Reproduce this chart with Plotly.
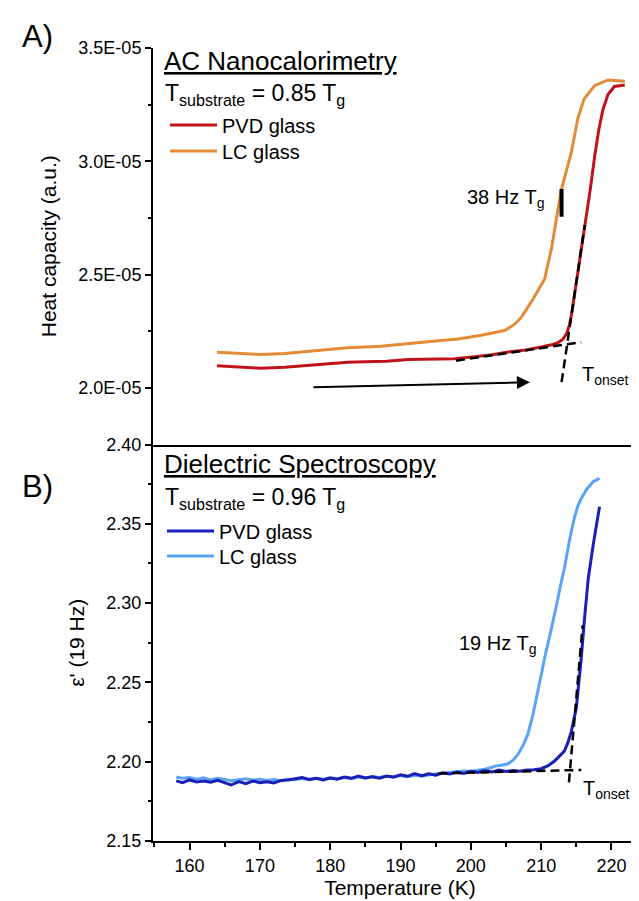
import plotly.graph_objects as go

# ---------------- data ----------------
# Panel A: AC nanocalorimetry (heat capacity, a.u.)
pvd_a_T = [163.9, 166.5, 170.1, 173.5, 176.8, 180.0, 182.5, 185.0, 188.0, 191.1, 194.5, 197.7,
           200.5, 203.0, 205.3, 207.8, 210.0, 211.5, 212.4, 213.1, 213.6, 214.0, 214.3, 215.0,
           215.7, 216.4, 217.0, 217.6, 218.2, 218.8, 219.5, 220.4, 221.9]
pvd_a_cp = [2.098e-5, 2.094e-5, 2.087e-5, 2.091e-5, 2.098e-5, 2.106e-5, 2.113e-5, 2.115e-5, 2.117e-5,
            2.125e-5, 2.125e-5, 2.128e-5, 2.137e-5, 2.146e-5, 2.158e-5, 2.167e-5, 2.180e-5, 2.190e-5,
            2.200e-5, 2.215e-5, 2.238e-5, 2.275e-5, 2.320e-5, 2.460e-5, 2.600e-5, 2.740e-5, 2.880e-5,
            3.020e-5, 3.140e-5, 3.230e-5, 3.295e-5, 3.330e-5, 3.337e-5]

lc_a_T = [163.9, 166.5, 170.1, 173.5, 176.8, 180.0, 182.5, 187.2, 191.1, 195.0, 198.2, 201.5,
          204.8, 206.2, 207.2, 208.8, 210.5, 211.5, 212.4, 212.9, 213.6, 214.3, 215.2, 216.1,
          217.6, 219.5, 221.9]
lc_a_cp = [2.1575e-5, 2.152e-5, 2.147e-5, 2.152e-5, 2.160e-5, 2.170e-5, 2.1765e-5, 2.184e-5, 2.197e-5,
           2.207e-5, 2.216e-5, 2.232e-5, 2.253e-5, 2.280e-5, 2.312e-5, 2.390e-5, 2.481e-5, 2.620e-5,
           2.790e-5, 2.878e-5, 2.960e-5, 3.040e-5, 3.187e-5, 3.275e-5, 3.334e-5, 3.359e-5, 3.353e-5]

onset_a_base_T = [197.9, 215.7]
onset_a_base_cp = [2.120e-5, 2.2016e-5]
onset_a_rise_T = [212.9, 216.2]
onset_a_rise_cp = [2.025e-5, 2.718e-5]
tg_a_T = [212.9, 212.9]
tg_a_cp = [2.755e-5, 2.878e-5]
arrow_T = [177.4, 208.4]
arrow_cp = [2.003e-5, 2.025e-5]

# Panel B: dielectric spectroscopy, eps' at 19 Hz
pvd_b_T = [158.1, 159, 160, 161, 162, 163, 164, 165, 165.9, 167, 168, 169, 170, 171, 172, 173, 174,
           175, 176, 177, 178, 179, 180, 181, 182, 183, 184, 185, 186, 187, 188, 189, 190, 191, 192,
           193, 194, 195, 196, 197, 198, 199, 200, 201, 202, 203, 204, 205, 206, 207, 208, 209, 210,
           211, 211.9, 212.6, 213.3, 213.8, 214.3, 215.0, 215.4, 215.7, 216.2, 216.7, 217.4, 218.3]
pvd_b_eps = [2.1879, 2.1868, 2.1885, 2.1872, 2.1878, 2.1870, 2.1882, 2.1868, 2.1853, 2.1875, 2.1862,
             2.1878, 2.1868, 2.1874, 2.1866, 2.1882, 2.1885, 2.1893, 2.1900, 2.1888, 2.1896, 2.1885,
             2.1897, 2.1890, 2.1903, 2.1895, 2.1910, 2.1898, 2.1905, 2.1896, 2.1910, 2.1903, 2.1918,
             2.1908, 2.1925, 2.1912, 2.1924, 2.1915, 2.1930, 2.1922, 2.1935, 2.1926, 2.1940, 2.1932,
             2.1945, 2.1936, 2.1948, 2.1938, 2.1945, 2.1940, 2.1948, 2.1950, 2.1956, 2.1975, 2.2004,
             2.2035, 2.2067, 2.2120, 2.2193, 2.2340, 2.2500, 2.2654, 2.2920, 2.3157, 2.3367, 2.3608]

lc_b_T = [158.1, 159, 160, 161, 162, 163, 164, 165, 166, 167, 168, 169, 170, 171, 172, 173, 174, 175,
          176, 177, 178, 179, 180, 181, 182, 183, 184, 185, 186, 187, 188, 189, 190, 191, 192, 193,
          194, 195, 196, 197, 198, 199, 200, 201, 202, 203, 203.4, 204.3, 205.3, 206.0, 206.7, 207.4,
          208.1, 208.8, 209.5, 210.1, 210.7, 211.2, 211.7, 212.1, 212.7, 213.3, 214.0, 214.7, 215.2,
          215.7, 216.5, 217.4, 218.3]
lc_b_eps = [2.1904, 2.1895, 2.1900, 2.1890, 2.1898, 2.1885, 2.1895, 2.1888, 2.1880, 2.1886, 2.1892,
            2.1884, 2.1890, 2.1882, 2.1888, 2.1880, 2.1890, 2.1886, 2.1895, 2.1887, 2.1896, 2.1889,
            2.1898, 2.1893, 2.1900, 2.1894, 2.1903, 2.1897, 2.1906, 2.1900, 2.1908, 2.1902, 2.1912,
            2.1906, 2.1915, 2.1910, 2.1918, 2.1922, 2.1928, 2.1933, 2.1938, 2.1942, 2.1940, 2.1945,
            2.1952, 2.1965, 2.1972, 2.1978, 2.1987, 2.2010, 2.2046, 2.2100, 2.2172, 2.2290, 2.2445,
            2.2570, 2.2696, 2.2790, 2.2885, 2.2969, 2.3100, 2.3220, 2.3390, 2.3535, 2.3610, 2.3660,
            2.3720, 2.3765, 2.3786]

onset_b_base_T = [195.4, 215.7]
onset_b_base_eps = [2.1926, 2.1948]
onset_b_rise_T = [213.95, 215.9]
onset_b_rise_eps = [2.187, 2.286]

x_ticks = [160, 170, 180, 190, 200, 210, 220]
ya_tickvals = [2.0e-5, 2.5e-5, 3.0e-5, 3.5e-5]
ya_ticktext = ["2.0E-05", "2.5E-05", "3.0E-05", "3.5E-05"]
ya_minor = [1.75e-5, 2.25e-5, 2.75e-5, 3.25e-5]
yb_tickvals = [2.15, 2.20, 2.25, 2.30, 2.35, 2.40]

RED = "#C0141C"
ORANGE = "#E38B35"
DBLUE = "#1A1FB8"
LBLUE = "#5BA3F7"
FONT = "Liberation Sans"

fig = go.Figure()

# panel A traces
fig.add_trace(go.Scatter(x=lc_a_T, y=lc_a_cp, mode="lines", name="LC glass",
                         line=dict(color=ORANGE, width=3), legend="legend2",
                         xaxis="x", yaxis="y"))
fig.add_trace(go.Scatter(x=pvd_a_T, y=pvd_a_cp, mode="lines", name="PVD glass",
                         line=dict(color=RED, width=3), legend="legend",
                         xaxis="x", yaxis="y"))
for tx, ty in [(onset_a_base_T, onset_a_base_cp), (onset_a_rise_T, onset_a_rise_cp)]:
    fig.add_trace(go.Scatter(x=tx, y=ty, mode="lines", showlegend=False,
                             line=dict(color="black", width=2.5, dash="9px,5px"),
                             xaxis="x", yaxis="y"))
fig.add_trace(go.Scatter(x=tg_a_T, y=tg_a_cp, mode="lines", showlegend=False,
                         line=dict(color="black", width=4), xaxis="x", yaxis="y"))

# panel B traces
fig.add_trace(go.Scatter(x=lc_b_T, y=lc_b_eps, mode="lines", name="LC glass",
                         line=dict(color=LBLUE, width=3), legend="legend4",
                         xaxis="x2", yaxis="y2"))
fig.add_trace(go.Scatter(x=pvd_b_T, y=pvd_b_eps, mode="lines", name="PVD glass",
                         line=dict(color=DBLUE, width=3), legend="legend3",
                         xaxis="x2", yaxis="y2"))
for tx, ty in [(onset_b_base_T, onset_b_base_eps), (onset_b_rise_T, onset_b_rise_eps)]:
    fig.add_trace(go.Scatter(x=tx, y=ty, mode="lines", showlegend=False,
                             line=dict(color="black", width=2.5, dash="9px,5px"),
                             xaxis="x2", yaxis="y2"))

xr = [154.8, 225.05]
axis_common = dict(showline=True, linecolor="black", linewidth=2, showgrid=False, zeroline=False,
                   tickfont=dict(family=FONT, size=18, color="black"), tickcolor="black",
                   tickwidth=2, automargin=False)


def leg(px_left, py_center):
    return dict(x=(px_left - 145) / 494, y=(833 - py_center) / 793, xanchor="left",
                yanchor="middle", bgcolor="rgba(0,0,0,0)", borderwidth=0,
                font=dict(family=FONT, size=20, color="black"), itemwidth=47)


fig.update_layout(
    width=639, height=901,
    margin=dict(l=145, r=0, t=40, b=68, autoexpand=False),
    paper_bgcolor="white", plot_bgcolor="white",
    font=dict(family=FONT, color="black"),
    xaxis=dict(domain=[0, 1], anchor="y", range=xr, matches="x2", showticklabels=False,
               ticks="", showline=True, linecolor="black", linewidth=2, showgrid=False,
               zeroline=False, automargin=False),
    yaxis=dict(domain=[0.5, 1], anchor="x", range=[1.75e-5, 3.5e-5], tickmode="array",
               tickvals=ya_tickvals, ticktext=ya_ticktext, ticks="outside", ticklen=6,
               minor=dict(tickmode="array", tickvals=ya_minor, ticks="outside", ticklen=3,
                          tickwidth=2, tickcolor="black"),
               title=dict(text="Heat capacity (a.u.)", font=dict(family=FONT, size=21),
                          standoff=16),
               **axis_common),
    xaxis2=dict(domain=[0, 1], anchor="y2", range=xr, tickmode="array", tickvals=x_ticks,
                ticks="outside", ticklen=7,
                minor=dict(dtick=5, tick0=155, ticks="outside", ticklen=4, tickwidth=2,
                           tickcolor="black"),
                title=dict(text="Temperature (K)", font=dict(family=FONT, size=21), standoff=5),
                **axis_common),
    yaxis2=dict(domain=[0, 0.5], anchor="x2", range=[2.15, 2.40], tickmode="array",
                tickvals=yb_tickvals, tickformat=".2f", ticks="outside", ticklen=6,
                minor=dict(dtick=0.025, tick0=2.15, ticks="outside", ticklen=3, tickwidth=2,
                           tickcolor="black"),
                title=dict(text="ε' (19 Hz)", font=dict(family=FONT, size=21), standoff=16),
                **axis_common),
    legend=leg(157, 117),
    legend2=leg(157, 143),
    legend3=leg(154, 523),
    legend4=leg(154, 548),
    showlegend=True,
)

ann = []
# panel labels
ann.append(dict(text="A)", xref="paper", yref="paper", x=(12 - 145) / 494, y=(833 - 28) / 793,
                xanchor="left", yanchor="middle", showarrow=False, font=dict(size=31)))
ann.append(dict(text="B)", xref="paper", yref="paper", x=(12 - 145) / 494, y=(833 - 478) / 793,
                xanchor="left", yanchor="middle", showarrow=False, font=dict(size=31)))
# panel titles
ann.append(dict(text="<u>AC Nanocalorimetry</u>", xref="x", yref="y", x=156.1, y=3.443e-5,
                xanchor="left", yanchor="middle", showarrow=False, font=dict(size=26)))
ann.append(dict(text="T<sub>substrate</sub> = 0.85 T<sub>g</sub>", xref="x", yref="y", x=156.2,
                y=3.293e-5, xanchor="left", yanchor="middle", showarrow=False, font=dict(size=23)))
ann.append(dict(text="<u>Dielectric Spectroscopy</u>", xref="x2", yref="y2", x=156.1, y=2.388,
                xanchor="left", yanchor="middle", showarrow=False, font=dict(size=26)))
ann.append(dict(text="T<sub>substrate</sub> = 0.96 T<sub>g</sub>", xref="x2", yref="y2", x=156.2,
                y=2.366, xanchor="left", yanchor="middle", showarrow=False, font=dict(size=23)))
# Tg / Tonset labels
ann.append(dict(text="38 Hz T<sub>g</sub>", xref="x", yref="y", x=210.7, y=2.834e-5,
                xanchor="right", yanchor="middle", showarrow=False, font=dict(size=20)))
ann.append(dict(text="T<sub>onset</sub>", xref="x", yref="y", x=215.5, y=2.055e-5,
                xanchor="left", yanchor="middle", showarrow=False, font=dict(size=20)))
ann.append(dict(text="19 Hz T<sub>g</sub>", xref="x2", yref="y2", x=209.6, y=2.2736,
                xanchor="right", yanchor="middle", showarrow=False, font=dict(size=20)))
ann.append(dict(text="T<sub>onset</sub>", xref="x2", yref="y2", x=215.7, y=2.1825,
                xanchor="left", yanchor="middle", showarrow=False, font=dict(size=20)))
# heating arrow
ann.append(dict(text="", xref="x", yref="y", axref="x", ayref="y",
                x=arrow_T[1], y=arrow_cp[1], ax=arrow_T[0], ay=arrow_cp[0],
                showarrow=True, arrowhead=2, arrowsize=1.3, arrowwidth=2, arrowcolor="black",
                standoff=0, startstandoff=0))
fig.update_layout(annotations=ann)

fig.write_html("out.html")
